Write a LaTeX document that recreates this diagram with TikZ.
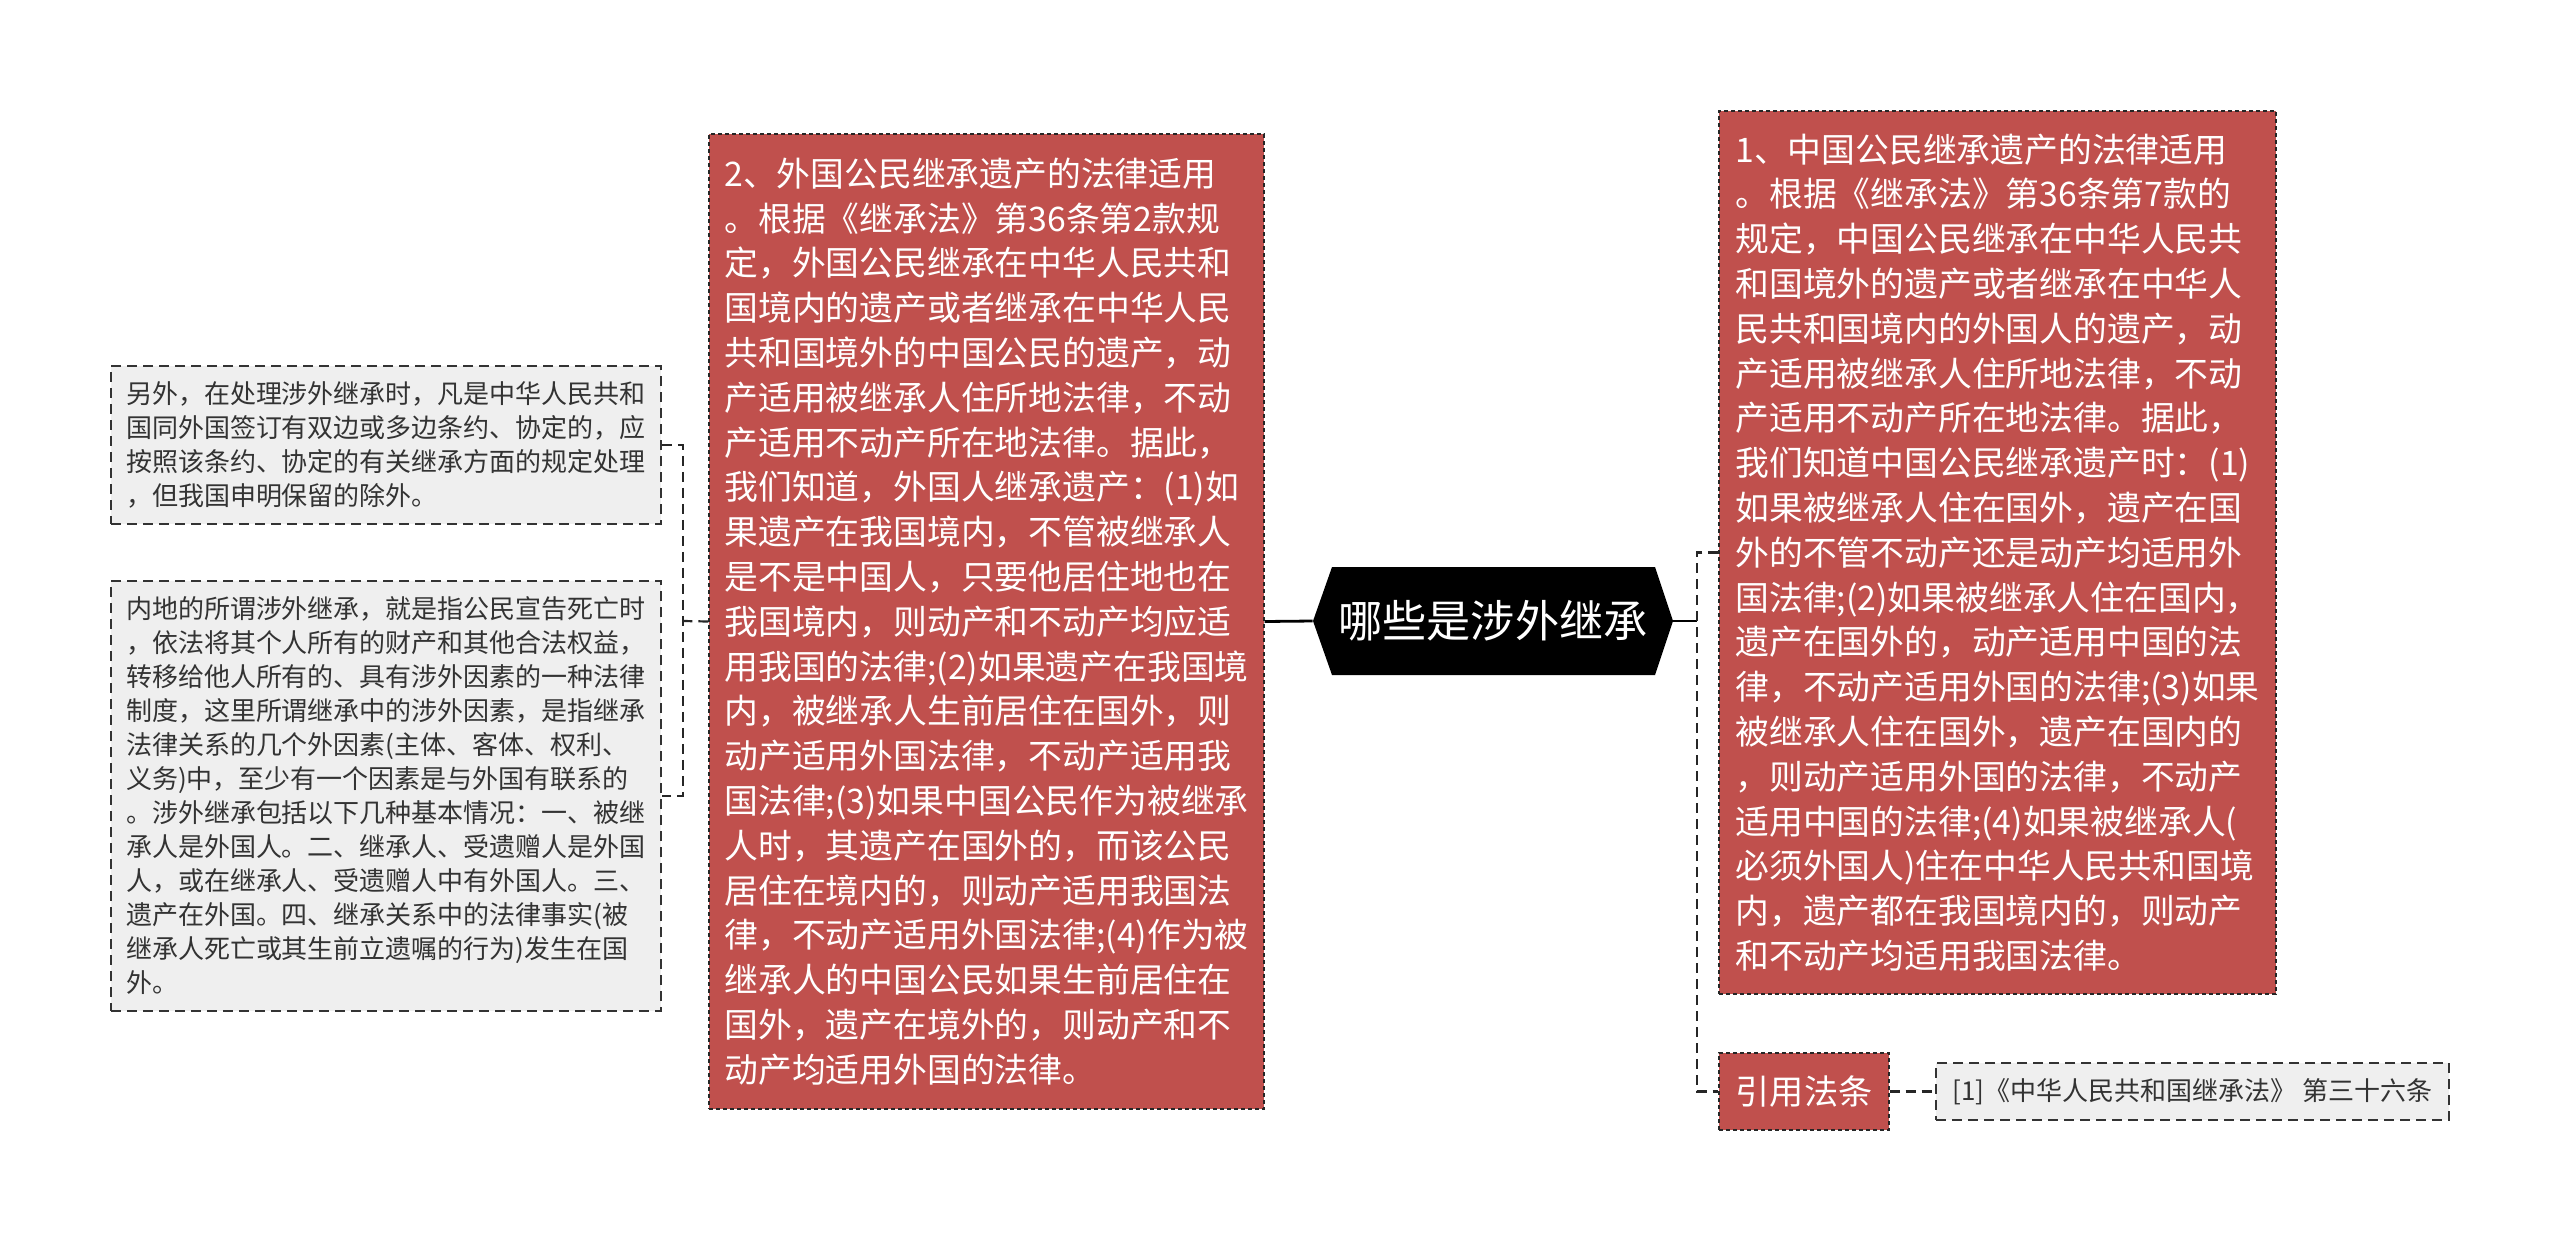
\documentclass[tikz,border=0pt]{standalone}
\usepackage{fontspec}
\setmainfont{Noto Sans CJK SC}
\definecolor{boxred}{HTML}{C0504D}
\definecolor{boxgray}{HTML}{EFEFEF}
\definecolor{inkgray}{HTML}{333333}
\begin{document}
\begin{tikzpicture}[x=0.5pt,y=-0.5pt,
  redbox/.style={draw=black!85, line width=0.7pt, dash pattern=on 2pt off 1.5pt, fill=boxred, text=white,
    font=\fontsize{16.9pt}{22.4pt}\selectfont, align=left, inner sep=0pt},
  graybox/.style={draw=black!80, line width=0.8pt, dash pattern=on 5pt off 3pt, fill=boxgray, text=inkgray,
    font=\fontsize{13pt}{17pt}\selectfont, align=left, inner sep=0pt},
  link/.style={draw=black!85, line width=1.1pt, dash pattern=on 5pt off 3pt},
  solidlink/.style={draw=black, line width=1.4pt}]

\useasboundingbox (0,0) rectangle (2560,1243);
\fill[white] (0,0) rectangle (2560,1243);

% central topic (hexagon)
\fill[black] (1313,621) -- (1332,567) -- (1655,567) -- (1673,621) -- (1655,675) -- (1332,675) -- cycle;
\node[text=white, font=\fontsize{22.1pt}{26pt}\selectfont, minimum width=180pt, minimum height=54pt, inner sep=0pt]
  (root) at (1493,621) {哪些是涉外继承};

% left red box
\node[redbox, minimum width=277.5pt, minimum height=487.5pt] (redL) at (986.5,621.5) {%
2、外国公民继承遗产的法律适用\\
。根据《继承法》第36条第2款规\\
定，外国公民继承在中华人民共和\\
国境内的遗产或者继承在中华人民\\
共和国境外的中国公民的遗产，动\\
产适用被继承人住所地法律，不动\\
产适用不动产所在地法律。据此，\\
我们知道，外国人继承遗产：(1)如\\
果遗产在我国境内，不管被继承人\\
是不是中国人，只要他居住地也在\\
我国境内，则动产和不动产均应适\\
用我国的法律;(2)如果遗产在我国境\\
内，被继承人生前居住在国外，则\\
动产适用外国法律，不动产适用我\\
国法律;(3)如果中国公民作为被继承\\
人时，其遗产在国外的，而该公民\\
居住在境内的，则动产适用我国法\\
律，不动产适用外国法律;(4)作为被\\
继承人的中国公民如果生前居住在\\
国外，遗产在境外的，则动产和不\\
动产均适用外国的法律。};

% gray boxes on the far left
\node[graybox, minimum width=275pt, minimum height=79pt] (gray1) at (386,445) {%
另外，在处理涉外继承时，凡是中华人民共和\\
国同外国签订有双边或多边条约、协定的，应\\
按照该条约、协定的有关继承方面的规定处理\\
，但我国申明保留的除外。};

\node[graybox, minimum width=275pt, minimum height=215pt] (gray2) at (386,796) {%
内地的所谓涉外继承，就是指公民宣告死亡时\\
，依法将其个人所有的财产和其他合法权益，\\
转移给他人所有的、具有涉外因素的一种法律\\
制度，这里所谓继承中的涉外因素，是指继承\\
法律关系的几个外因素(主体、客体、权利、\\
义务)中，至少有一个因素是与外国有联系的\\
。涉外继承包括以下几种基本情况：一、被继\\
承人是外国人。二、继承人、受遗赠人是外国\\
人，或在继承人、受遗赠人中有外国人。三、\\
遗产在外国。四、继承关系中的法律事实(被\\
继承人死亡或其生前立遗嘱的行为)发生在国\\
外。};

% right red box
\node[redbox, minimum width=278.5pt, minimum height=441.5pt] (redR) at (1997.5,552.5) {%
1、中国公民继承遗产的法律适用\\
。根据《继承法》第36条第7款的\\
规定，中国公民继承在中华人民共\\
和国境外的遗产或者继承在中华人\\
民共和国境内的外国人的遗产，动\\
产适用被继承人住所地法律，不动\\
产适用不动产所在地法律。据此，\\
我们知道中国公民继承遗产时：(1)\\
如果被继承人住在国外，遗产在国\\
外的不管不动产还是动产均适用外\\
国法律;(2)如果被继承人住在国内，\\
遗产在国外的，动产适用中国的法\\
律，不动产适用外国的法律;(3)如果\\
被继承人住在国外，遗产在国内的\\
，则动产适用外国的法律，不动产\\
适用中国的法律;(4)如果被继承人(\\
必须外国人)住在中华人民共和国境\\
内，遗产都在我国境内的，则动产\\
和不动产均适用我国法律。};

% citation
\node[redbox, font=\fontsize{17.1pt}{20pt}\selectfont, minimum width=85pt, minimum height=38.5pt] (cite) at (1804,1091.5) {引用法条};
\node[graybox, minimum width=256.5pt, minimum height=28.5pt] (ref) at (2192.5,1091.5) {[1]《中华人民共和国继承法》 第三十六条};

% connectors
\coordinate (lb) at (683,621);
\coordinate (rb) at (1697,621);
\draw[solidlink] (root.west) -- (redL.east);
\draw[link] (redL.west) -- (lb);
\draw[link] (gray1.east) -- (gray1.east -| lb) -- (gray2.east -| lb) -- (gray2.east);
\draw[solidlink] (root.east) -- (rb);
\draw[link] (redR.west) -- (redR.west -| rb) -- (cite.west -| rb) -- (cite.west);
\draw[link] (cite.east) -- (ref.west);
\end{tikzpicture}
\end{document}
